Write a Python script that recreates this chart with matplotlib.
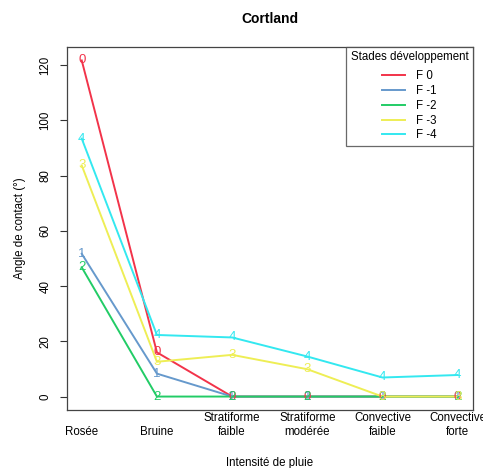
import matplotlib
matplotlib.use("Agg")
import matplotlib.pyplot as plt
from matplotlib.lines import Line2D
import numpy as np

plt.rcParams['font.family'] = ['Liberation Sans', 'DejaVu Sans']

categories = ["Rosée", "Bruine", "Stratiforme\nfaible", "Stratiforme\nmodérée",
              "Convective\nfaible", "Convective\nforte"]
series_names = ["F 0", "F -1", "F -2", "F -3", "F -4"]
series_symbols = ["0", "1", "2", "3", "4"]
f0 = [121.7, 16.0, 0, 0, 0, 0]
f1 = [51.7, 8.3, 0, 0, 0, 0]
f2 = [46.8, 0, 0, 0, 0, 0]
f3 = [83.7, 12.6, 15.1, 9.9, 0, 0]
f4 = [93.4, 22.3, 21.4, 14.5, 6.9, 7.8]
colors = ["#F2334A", "#6699CC", "#22CC66", "#EEEE55", "#33E8F0"]
yticks = [0, 20, 40, 60, 80, 100, 120]

series = [f0, f1, f2, f3, f4]
x = np.arange(1, len(categories) + 1)

fig = plt.figure(figsize=(4.83, 4.68), dpi=100)
ax = fig.add_axes([66.7 / 483, 58 / 468, 406 / 483, 363 / 468])

FS = 8.3
for vals, col, sym in zip(series, colors, series_symbols):
    ax.plot(x, vals, color=col, lw=1.4, solid_joinstyle='miter')
    for xi, yi in zip(x, vals):
        ax.text(xi, yi, sym, color=col, fontsize=9.5, ha='center', va='center')

allv = np.concatenate([np.array(s, dtype=float) for s in series])
ymin, ymax = allv.min(), allv.max()
yr = ymax - ymin
ax.set_ylim(ymin - 0.04 * yr, ymax + 0.04 * yr)
xr = x.max() - x.min()
ax.set_xlim(x.min() - 0.04 * xr, x.max() + 0.04 * xr)

ax.set_yticks(yticks)
ax.set_yticklabels([str(t) for t in yticks], rotation=90, va='center', fontsize=FS)
ax.tick_params(axis='y', length=5, width=0.8, pad=6, color='#333333')

ax.set_xticks(x)
ax.set_xticklabels(categories, fontsize=FS, linespacing=1.15)
ax.tick_params(axis='x', length=0, pad=20)
for lab in ax.get_xticklabels():
    lab.set_verticalalignment('bottom')

for sp in ax.spines.values():
    sp.set_color('#444444')
    sp.set_linewidth(0.9)

ax.set_title("Cortland", fontsize=10, fontweight='bold', pad=17)
ax.set_xlabel("Intensité de pluie", fontsize=FS, labelpad=14)
ax.set_ylabel("Angle de contact (°)", fontsize=FS, labelpad=10)

handles = [Line2D([0], [0], color=c, lw=1.4) for c in colors]
leg = ax.legend(handles, series_names, title="Stades développement",
                loc='upper right', borderaxespad=0, fontsize=FS, title_fontsize=FS,
                frameon=True, fancybox=False, edgecolor='#444444',
                handlelength=2.0, handletextpad=0.9, labelspacing=0.24,
                borderpad=0.38)
leg.get_frame().set_linewidth(0.9)
leg._legend_box.sep = 5

fig.savefig("out.png", dpi=100)
